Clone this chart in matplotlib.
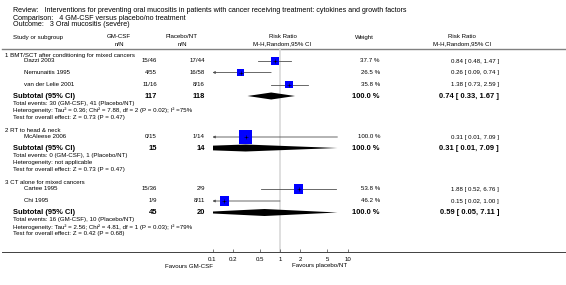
import matplotlib
matplotlib.use('Agg')
import matplotlib.pyplot as plt

plt.rcParams['font.family'] = ['Liberation Sans', 'DejaVu Sans']

# ---------------- data ----------------
review = "Interventions for preventing oral mucositis in patients with cancer receiving treatment: cytokines and growth factors"
comparison = "4 GM-CSF versus placebo/no treatment"
outcome = "3 Oral mucositis (severe)"

subgroups = ["1 BMT/SCT after conditioning for mixed cancers",
             "2 RT to head & neck",
             "3 CT alone for mixed cancers"]
studies = [["Dazzi 2003", "Nemunaitis 1995", "van der Lelie 2001"],
           ["McAleese 2006"],
           ["Cartee 1995", "Chi 1995"]]
gm_events = [[15, 4, 11], [0], [15, 1]]
gm_total = [[46, 55, 16], [15], [36, 9]]
pl_events = [[17, 16, 8], [1], [2, 8]]
pl_total = [[44, 58, 16], [14], [9, 11]]
weights = [[37.7, 26.5, 35.8], [100.0], [53.8, 46.2]]
rr = [[0.84, 0.26, 1.38], [0.31], [1.88, 0.15]]
rr_lo = [[0.48, 0.09, 0.73], [0.01], [0.52, 0.02]]
rr_hi = [[1.47, 0.74, 2.59], [7.09], [6.76, 1.00]]

sub_n_gm = [117, 15, 45]
sub_n_pl = [118, 14, 20]
sub_ev_gm = [30, 0, 16]
sub_ev_pl = [41, 1, 10]
sub_rr = [0.74, 0.31, 0.59]
sub_lo = [0.33, 0.01, 0.05]
sub_hi = [1.67, 7.09, 7.11]
heterogeneity = ["Heterogeneity: Tau\u00b2 = 0.36; Chi\u00b2 = 7.88, df = 2 (P = 0.02); I\u00b2 =75%",
                 "Heterogeneity: not applicable",
                 "Heterogeneity: Tau\u00b2 = 2.56; Chi\u00b2 = 4.81, df = 1 (P = 0.03); I\u00b2 =79%"]
overall = ["Test for overall effect: Z = 0.73 (P = 0.47)",
           "Test for overall effect: Z = 0.73 (P = 0.47)",
           "Test for overall effect: Z = 0.42 (P = 0.68)"]

tick_values = [0.1, 0.2, 0.5, 1, 2, 5, 10]
tick_labels = ["0.1", "0.2", "0.5", "1", "2", "5", "10"]
left_label = "Favours GM-CSF"
right_label = "Favours placebo/NT"

# ---------------- layout ----------------
W, H = 566, 285
FS = 4.4
FST = 5.1
FSB = 5.4
sg_header_y = [55, 131, 183]
study_y = [[61, 72.5, 84.5], [137], [189, 201]]
subtotal_y = [96, 148, 212.5]
AXIS_Y = 252
X_GM = 157
X_PL = 205
X_W = 380
X_RR = 499

fig = plt.figure(figsize=(W / 100, H / 100), dpi=100)
bg = fig.add_axes([0, 0, 1, 1])
bg.set_xlim(0, W)
bg.set_ylim(H, 0)
bg.axis('off')

fx0, fx1 = 212.5, 347.5
ax = fig.add_axes([fx0 / W, (H - AXIS_Y) / H, (fx1 - fx0) / W, AXIS_Y / H])
ax.set_xscale('log')
ax.set_xlim(0.1, 10)
ax.set_ylim(AXIS_Y, 0)
ax.patch.set_alpha(0)
for s in ax.spines.values():
    s.set_visible(False)
ax.set_xticks(tick_values)
ax.set_xticklabels(tick_labels)
ax.minorticks_off()
ax.set_yticks([])
ax.tick_params(axis='x', direction='in', length=2.5, width=0.5, color='#444',
               labelsize=FS, pad=3.8)


def t(x, y, s, ha='left', bold=False, size=None, color='black'):
    bg.text(x, y, s, ha=ha, va='center', fontsize=size or (FSB if bold else FS),
            fontweight='bold' if bold else 'normal', color=color)


# title block
t(13, 11, "Review:   " + review, size=FST)
t(13, 18, "Comparison:   " + comparison, size=FST)
t(13, 25, "Outcome:   " + outcome, size=FST)

# headers
t(13, 37, "Study or subgroup")
t(119, 37, "GM-CSF", ha='center')
t(119, 44, "n/N", ha='center')
t(182, 37, "Placebo/NT", ha='center')
t(182, 44, "n/N", ha='center')
t(283, 37, "Risk Ratio", ha='center')
t(282, 44, "M-H,Random,95% CI", ha='center')
t(364, 37, "Weight", ha='center')
t(462, 37, "Risk Ratio", ha='center')
t(462, 44, "M-H,Random,95% CI", ha='center')

bg.plot([2, W], [49, 49], color='#808080', lw=1.0)
bg.plot([2, W], [AXIS_Y, AXIS_Y], color='#404040', lw=0.7)
ax.plot([1, 1], [49, AXIS_Y], color='#d9d9d9', lw=1.2, zorder=0)

for g in range(len(subgroups)):
    t(5, sg_header_y[g], subgroups[g])
    for i, name in enumerate(studies[g]):
        y = study_y[g][i]
        t(24, y, name)
        t(X_GM, y, f"{gm_events[g][i]}/{gm_total[g][i]}", ha='right')
        t(X_PL, y, f"{pl_events[g][i]}/{pl_total[g][i]}", ha='right')
        t(X_W, y, f"{weights[g][i]:.1f} %", ha='right')
        t(X_RR, y, f"{rr[g][i]:.2f} [ {rr_lo[g][i]:.2f}, {rr_hi[g][i]:.2f} ]", ha='right')
        lo, hi = rr_lo[g][i], rr_hi[g][i]
        if lo < 0.1:
            ax.annotate('', xy=(0.1, y), xytext=(hi, y),
                        arrowprops=dict(arrowstyle='-|>', color='#505050', lw=0.6,
                                        mutation_scale=3.5, shrinkA=0, shrinkB=0))
        else:
            ax.plot([lo, hi], [y, y], color='#505050', lw=0.6, zorder=2)
        side = 1.33 * weights[g][i] ** 0.5 * 0.72
        ax.scatter([rr[g][i]], [y], marker='s', s=side ** 2, color='#0000ff',
                   edgecolors='none', zorder=3)
        ax.scatter([rr[g][i]], [y], marker='+', s=6, color='black', linewidths=0.4,
                   zorder=4)
    ys = subtotal_y[g]
    t(13, ys, "Subtotal (95% CI)", bold=True)
    t(X_GM, ys, f"{sub_n_gm[g]}", ha='right', bold=True)
    t(X_PL, ys, f"{sub_n_pl[g]}", ha='right', bold=True)
    t(X_W, ys, "100.0 %", ha='right', bold=True)
    t(X_RR, ys, f"{sub_rr[g]:.2f} [ {sub_lo[g]:.2f}, {sub_hi[g]:.2f} ]", ha='right', bold=True)
    t(13, ys + 7.5, f"Total events: {sub_ev_gm[g]} (GM-CSF), {sub_ev_pl[g]} (Placebo/NT)")
    t(13, ys + 14.5, heterogeneity[g])
    t(13, ys + 21, overall[g])
    ax.fill([sub_lo[g], sub_rr[g], sub_hi[g], sub_rr[g]],
            [ys, ys - 3.5, ys, ys + 3.5], color='black', lw=0, zorder=3)

t(213, 266, left_label, ha='right')
t(292, 266, right_label, ha='left')

fig.savefig('out.png', dpi=100)
